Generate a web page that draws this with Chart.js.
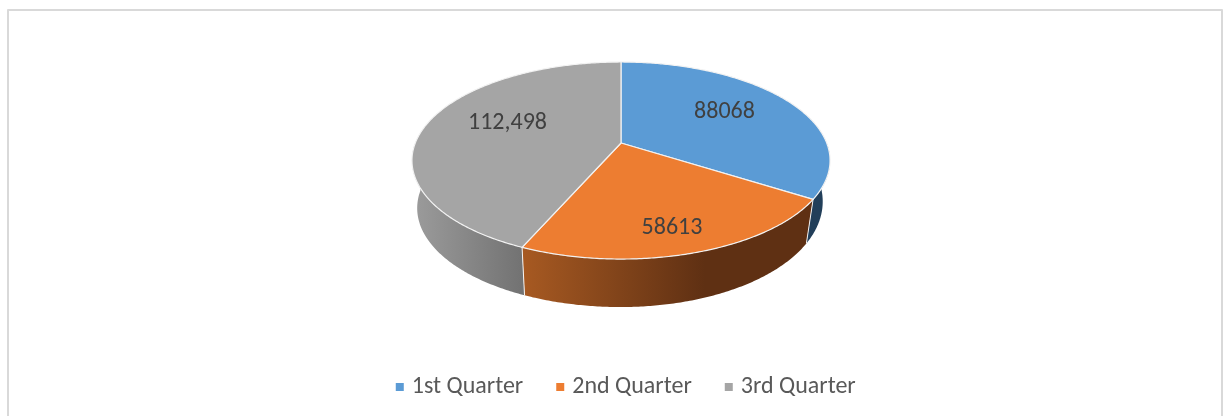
<!DOCTYPE html>
<html><head><meta charset="utf-8">
<style>html,body{margin:0;padding:0;background:#fff;overflow:hidden}#wrap{position:absolute;left:0;top:0;width:1231px;height:416px}</style>
<script src="https://cdn.jsdelivr.net/npm/chart.js@4/dist/chart.umd.min.js"></script>
</head><body><div id="wrap"><canvas id="c" width="1231" height="416"></canvas></div>
<script>
const categories = ['1st Quarter', '2nd Quarter', '3rd Quarter'];
const seriesValues = [88068, 58613, 112498];
const dataLabels = ['88068', '58613', '112,498'];
const topColors = ['#5B9BD5', '#ED7D31', '#A5A5A5'];

// Rendering parameters for the tilted disc
const view = {cx: 621, cy: 143, a: 205.7, b: 95.4, k: 0.178, insetL: 0.975, insetR: 0.965};
const labelSpots = [[724.5, 112], [672, 228], [507.5, 123]];
const fontStack = 'Carlito, "Open Sans", "Noto Sans", sans-serif';

function project(angle, lower) {
  // angle in Chart.js radians (-PI/2 is top)
  const u = Math.cos(angle), v = Math.sin(angle);
  const w = 1 - view.k * v;
  const x = view.a * u / w, y = view.b * v / w;
  if (!lower) return [view.cx + x, view.cy + y];
  const drop = u < 0 ? 47.5 + 0.5 * v : 39.5 + 8.5 * v;
  return [view.cx + x * (u < 0 ? view.insetL : view.insetR), view.cy + y + drop];
}
function rimPath(ctx, a0, a1, lower, moveFirst) {
  const n = Math.max(2, Math.ceil(Math.abs(a1 - a0) / 0.01));
  for (let i = 0; i <= n; i++) {
    const p = project(a0 + (a1 - a0) * i / n, lower);
    if (i === 0 && moveFirst) ctx.moveTo(p[0], p[1]); else ctx.lineTo(p[0], p[1]);
  }
}
function wallFill(ctx, i) {
  if (i === 0) return '#223F5A';
  const g = ctx.createLinearGradient(412, 0, 830, 0);
  if (i === 1) {
    g.addColorStop(0, '#B8622A'); g.addColorStop(0.26, '#A85A22');
    g.addColorStop(0.70, '#5F3013'); g.addColorStop(1, '#5F3013');
  } else {
    g.addColorStop(0, '#9C9C9C'); g.addColorStop(0.26, '#737373'); g.addColorStop(1, '#737373');
  }
  return g;
}
const disc3d = {
  id: 'disc3d',
  afterLayout(chart) {
    chart.legend.left += 24.5;
    chart.legend.top -= 7;
  },
  beforeDatasetDraw(chart) {
    const ctx = chart.ctx;
    const arcs = chart.getDatasetMeta(0).data;
    ctx.save();
    ctx.lineJoin = 'round';
    // outer walls: only the visible (front) half of the rim
    arcs.forEach((el, i) => {
      const a0 = Math.max(el.startAngle, 0), a1 = Math.min(el.endAngle, Math.PI);
      if (a1 <= a0) return;
      ctx.beginPath();
      rimPath(ctx, a0, a1, false, true);
      rimPath(ctx, a1, a0, true, false);
      ctx.closePath();
      ctx.fillStyle = wallFill(ctx, i);
      ctx.fill();
    });
    // seams between walls
    ctx.strokeStyle = 'rgba(255,255,255,0.9)';
    ctx.lineWidth = 1;
    arcs.forEach(el => {
      if (el.startAngle > 0 && el.startAngle < Math.PI) {
        const p = project(el.startAngle, false), q = project(el.startAngle, true);
        ctx.beginPath(); ctx.moveTo(p[0], p[1]); ctx.lineTo(q[0], q[1]); ctx.stroke();
      }
    });
    // top faces
    arcs.forEach(el => {
      ctx.beginPath();
      ctx.moveTo(view.cx, view.cy);
      rimPath(ctx, el.startAngle, el.endAngle, false, false);
      ctx.closePath();
      ctx.fillStyle = el.options.backgroundColor;
      ctx.fill();
      ctx.strokeStyle = '#F2F2F2';
      ctx.lineWidth = 1.2;
      ctx.stroke();
    });
    // value labels
    ctx.fillStyle = '#404040';
    ctx.font = '24px ' + fontStack;
    ctx.textAlign = 'center';
    ctx.textBaseline = 'middle';
    dataLabels.forEach((t, i) => ctx.fillText(t, labelSpots[i][0], labelSpots[i][1]));
    // chart frame
    ctx.strokeStyle = '#D9D9D9';
    ctx.lineWidth = 2;
    ctx.strokeRect(8, 10, 1214, 430);
    ctx.restore();
    return false;
  }
};
new Chart(document.getElementById('c'), {
  type: 'pie',
  data: {labels: categories, datasets: [{data: seriesValues, backgroundColor: topColors, borderWidth: 0}]},
  options: {
    responsive: false, animation: false, rotation: 0,
    plugins: {
      tooltip: {enabled: false},
      legend: {
        position: 'bottom',
        labels: {usePointStyle: true, pointStyle: 'rect', boxWidth: 0.01, boxHeight: 8, padding: 37, color: '#595959',
          font: {size: 24, family: fontStack}}
      }
    }
  },
  plugins: [disc3d]
});
</script></body></html>
